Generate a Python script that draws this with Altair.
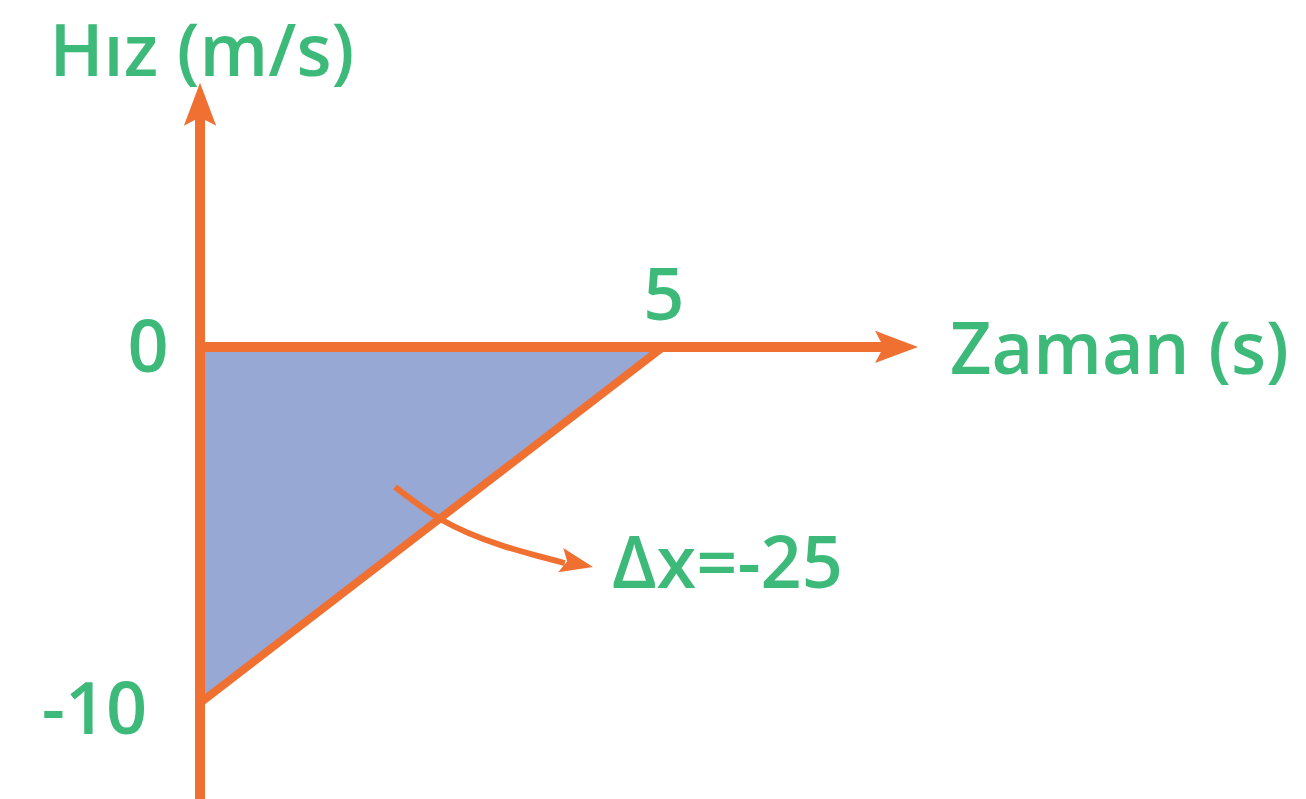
import altair as alt
import pandas as pd

# Velocity-time line: v goes from -10 m/s at t=0 to 0 m/s at t=5 s
t_vals = [0, 5]
v_vals = [-10, 0]
area_label = "Δx=-25"

GREEN = "#3dba7a"
ORANGE = "#f07032"
FILL = "#98a8d4"
FONT = "Open Sans"

# Scale domains chosen so the origin sits near the upper-left of the canvas
X_DOMAIN = [-2.16, 11.944]
Y_DOMAIN = [-12.697, 9.747]

xs = alt.Scale(domain=X_DOMAIN, nice=False, zero=False)
ys = alt.Scale(domain=Y_DOMAIN, nice=False, zero=False)

line_df = pd.DataFrame({"t": t_vals, "v": v_vals})

X = lambda f="t": alt.X(f, type="quantitative", scale=xs, axis=None)
Y = lambda f="v": alt.Y(f, type="quantitative", scale=ys, axis=None)

# shaded displacement area between the line and v = 0
area = alt.Chart(line_df).mark_area(color=FILL, opacity=1).encode(
    x=X(), y=Y(), y2=alt.datum(0)
)

vline = alt.Chart(line_df).mark_line(color=ORANGE, strokeWidth=8).encode(x=X(), y=Y())

# axes drawn as arrows
axes_df = pd.DataFrame({
    "t": [0, 0], "v": [-13.5, 0], "t2": [0, 7.45], "v2": [6.75, 0]
})
axes = alt.Chart(axes_df).mark_rule(color=ORANGE, strokeWidth=10).encode(
    x=X(), y=Y(), x2="t2:Q", y2="v2:Q"
)

ARROW_RIGHT = "M0,0 L-2,-0.75 L-1.6,0 L-2,0.75 Z"
ARROW_UP = "M0,0 L-0.75,2 L0,1.6 L0.75,2 Z"

head_x = alt.Chart(pd.DataFrame({"t": [7.754], "v": [0]})).mark_point(
    shape=ARROW_RIGHT, filled=True, color=ORANGE, opacity=1, size=1849
).encode(x=X(), y=Y())
head_y = alt.Chart(pd.DataFrame({"t": [0], "v": [7.42]})).mark_point(
    shape=ARROW_UP, filled=True, color=ORANGE, opacity=1, size=1849
).encode(x=X(), y=Y())

# curved pointer from the shaded area to its label
curve_df = pd.DataFrame({
    "t": [2.106, 2.613, 3.24, 3.94],
    "v": [-3.93, -4.86, -5.56, -6.07],
})
curve = alt.Chart(curve_df).mark_line(
    color=ORANGE, strokeWidth=6, interpolate="natural"
).encode(x=X(), y=Y())
curve_head = alt.Chart(pd.DataFrame({"t": [4.244], "v": [-6.18]})).mark_point(
    shape=ARROW_RIGHT, filled=True, color=ORANGE, opacity=1, size=1089, angle=12
).encode(x=X(), y=Y())

labels_df = pd.DataFrame([
    {"t": 0.02, "v": 8.22, "text": "Hız (m/s)", "align": "center"},
    {"t": 8.10, "v": -0.14, "text": "Zaman (s)", "align": "left"},
    {"t": -0.56, "v": -0.08, "text": "0", "align": "center"},
    {"t": 5.01, "v": 1.38, "text": "5", "align": "center"},
    {"t": -0.57, "v": -10.25, "text": "-10", "align": "right"},
    {"t": 4.45, "v": -6.15, "text": area_label, "align": "left"},
])

def text_layer(align):
    return alt.Chart(labels_df[labels_df["align"] == align]).mark_text(
        color=GREEN, font=FONT, fontSize=72, fontWeight=600,
        align=align, baseline="middle"
    ).encode(x=X(), y=Y(), text="text:N")

chart = alt.layer(
    area, vline, axes, head_x, head_y, curve, curve_head,
    text_layer("center"), text_layer("left"), text_layer("right"),
).properties(
    width=1306, height=799, padding=0,
    autosize=alt.AutoSizeParams(type="none"),
    background="white",
).configure_view(stroke=None)

chart.save("out.html", embed_options={"renderer": "svg", "actions": False})
